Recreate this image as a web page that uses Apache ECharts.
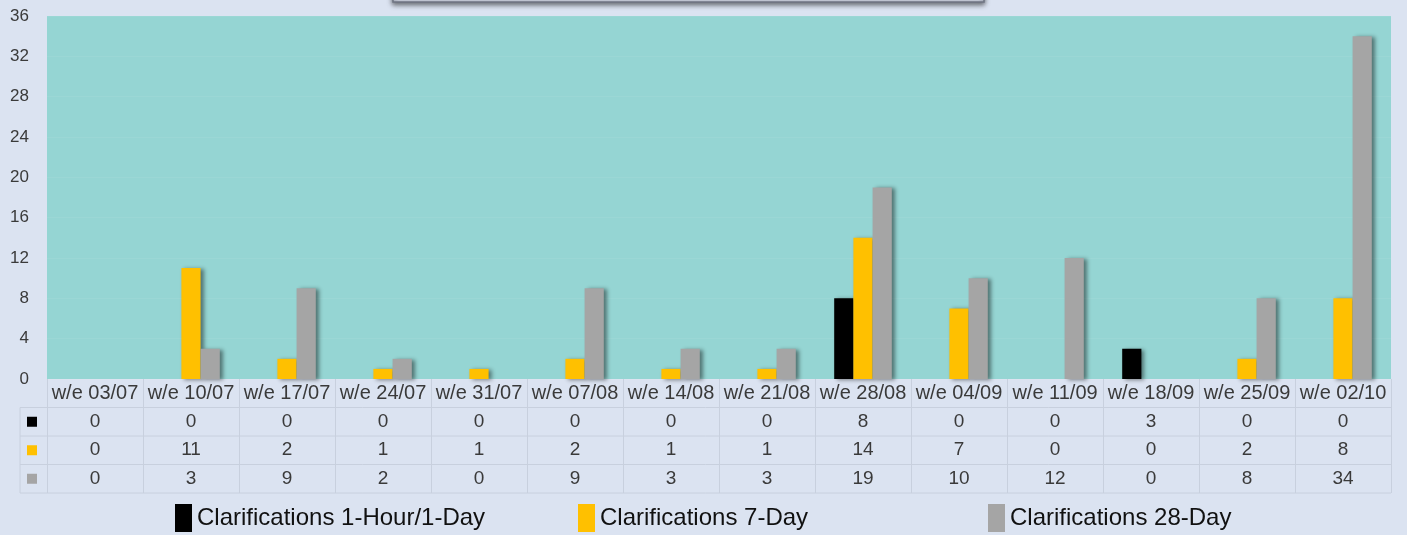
<!DOCTYPE html>
<html>
<head>
<meta charset="utf-8">
<script src="https://cdn.jsdelivr.net/npm/echarts@6/dist/echarts.min.js"></script>
<style>
html,body{margin:0;padding:0;background:#dbe3f1;}
#chart{width:1407px;height:535px;}
</style>
</head>
<body>
<div id="chart"></div>
<script>
// categories + series values
var weeks = ['w/e 03/07','w/e 10/07','w/e 17/07','w/e 24/07','w/e 31/07','w/e 07/08','w/e 14/08',
             'w/e 21/08','w/e 28/08','w/e 04/09','w/e 11/09','w/e 18/09','w/e 25/09','w/e 02/10'];
var clar1Day  = [0,0,0,0,0,0,0,0,8,0,0,3,0,0];
var clar7Day  = [0,11,2,1,1,2,1,1,14,7,0,0,2,8];
var clar28Day = [0,3,9,2,0,9,3,3,19,10,12,0,8,34];
var names = ['Clarifications 1-Hour/1-Day','Clarifications 7-Day','Clarifications 28-Day'];
var colors = ['#000000','#ffc000','#a5a5a5'];

var font = 'Liberation Sans, Arial, sans-serif';
var W = 1407, H = 535;
var gLeft = 47, gRight = 16, gTop = 16, gBottom = 156;
var axisY = H - gBottom;           // 379
var rowH = 28.5;
var tableLine = '#c8d0de';

var myChart = echarts.init(document.getElementById('chart'));

function noZero(arr){
    return arr.map(function(v){ return v === 0 ? null : v; });
}

// extra bottom axes used as the data table rows
function tableAxis(vals, margin){
    return {
        type:'category', data:weeks, position:'bottom', gridIndex:0,
        axisLine:{show:false}, axisTick:{show:false},
        axisLabel:{
            interval:0, margin:margin, verticalAlign:'middle',
            fontSize:19, fontFamily:font, color:'#3a3a3a',
            formatter:function(v, i){ return String(vals[i]); }
        }
    };
}

var tableTop = axisY + rowH;
var tableBottom = axisY + rowH * 4;
var graphics = [
    // bottom of the cut off title box
    {type:'rect', shape:{x:393, y:-20, width:591, height:22},
     style:{fill:'#c9cfdd', stroke:'#6f7482', lineWidth:1.5,
            shadowBlur:5, shadowColor:'rgba(0,0,0,0.55)', shadowOffsetY:2}},
    {type:'line', shape:{x1:20, y1:tableTop, x2:20, y2:tableBottom}, style:{stroke:tableLine, lineWidth:1}}
];
for (var r = 1; r <= 4; r++) {
    graphics.push({type:'line', shape:{x1:20, y1:axisY + rowH * r, x2:W - gRight, y2:axisY + rowH * r},
                   style:{stroke:tableLine, lineWidth:1}});
}
for (var k = 0; k < 3; k++) {
    graphics.push({type:'rect', shape:{x:27, y:axisY + rowH * (k + 1.5) - 5, width:10, height:10},
                   style:{fill:colors[k]}});
}

function legendFor(i, left){
    return {
        data:[names[i]], left:left, top:504, padding:0,
        icon:'rect', itemWidth:17, itemHeight:28,
        textStyle:{fontSize:24, fontFamily:font, color:'#111'}
    };
}

var option = {
    backgroundColor:'#dbe3f1',
    animation:false,
    color:colors,
    grid:{left:gLeft, right:gRight, top:gTop, bottom:gBottom, show:true,
          backgroundColor:'#95d5d3', borderWidth:0},
    legend:[legendFor(0,175), legendFor(1,578), legendFor(2,988)],
    xAxis:[
        {
            type:'category', data:weeks, position:'bottom',
            axisLine:{show:false},
            axisTick:{show:true, interval:0, length:rowH * 4, lineStyle:{color:tableLine}},
            axisLabel:{interval:0, margin:14, verticalAlign:'middle',
                       fontSize:20, fontFamily:font, color:'#3a3a3a'}
        },
        tableAxis(clar1Day, rowH * 1.5),
        tableAxis(clar7Day, rowH * 2.5),
        tableAxis(clar28Day, rowH * 3.5)
    ],
    yAxis:{
        type:'value', min:0, max:36, interval:4,
        axisLine:{show:false}, axisTick:{show:false},
        splitLine:{show:true, lineStyle:{color:'rgba(255,255,255,0.06)'}},
        axisLabel:{margin:18, fontSize:17, fontFamily:font, color:'#3a3a3a'}
    },
    graphic:graphics,
    series:[
        {name:names[0], type:'bar', data:noZero(clar1Day)},
        {name:names[1], type:'bar', data:noZero(clar7Day)},
        {name:names[2], type:'bar', data:noZero(clar28Day)}
    ].map(function(s){
        s.barGap = 0;
        s.barCategoryGap = '40%';
        s.itemStyle = {shadowBlur:4, shadowColor:'rgba(0,0,0,0.45)', shadowOffsetX:3, shadowOffsetY:1};
        s.xAxisIndex = 0;
        return s;
    })
};

myChart.setOption(option);
</script>
</body>
</html>
